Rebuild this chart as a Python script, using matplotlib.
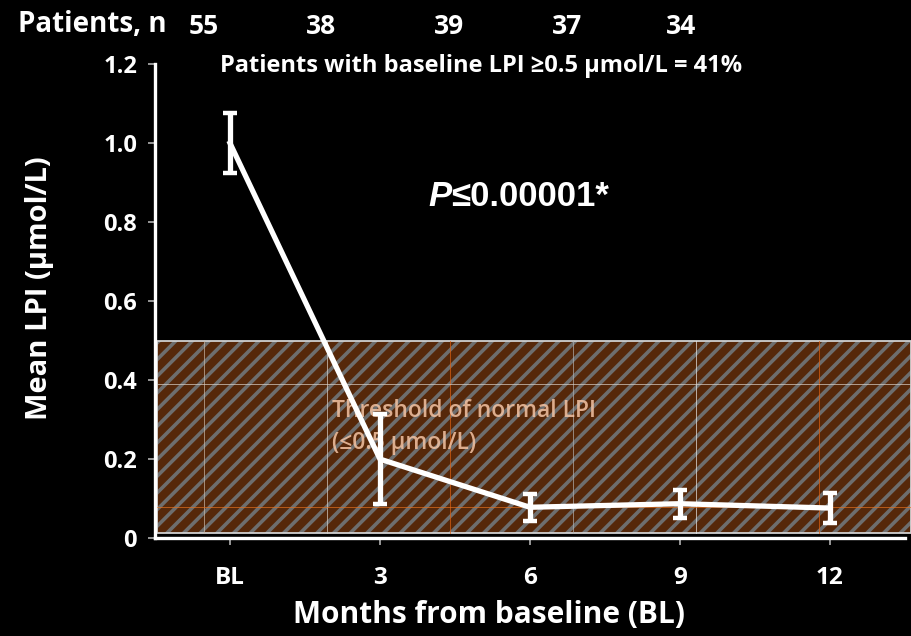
import numpy as np
import matplotlib
matplotlib.use("Agg")
import matplotlib.pyplot as plt
from matplotlib.patches import Rectangle

# ---- data -------------------------------------------------------------
timepoints = ["BL", "3", "6", "9", "12"]
mean_lpi = [1.0, 0.2, 0.078, 0.087, 0.076]
lpi_err = [0.076, 0.115, 0.034, 0.035, 0.037]
patients_n = [55, 38, 39, 37, 34]
y_ticks = [0, 0.2, 0.4, 0.6, 0.8, 1.0, 1.2]
y_tick_labels = ["0", "0.2", "0.4", "0.6", "0.8", "1.0", "1.2"]
normal_threshold = 0.5

# ---- style ------------------------------------------------------------
FONT = "Open Sans"
ARIAL = ["Liberation Sans", "DejaVu Sans"]
plt.rcParams["font.family"] = [FONT, "DejaVu Sans"]
plt.rcParams["hatch.linewidth"] = 2.6

W, H = 912, 636
fig = plt.figure(figsize=(W / 100, H / 100), dpi=100, facecolor="black")
ax = fig.add_axes([0.170, 0.154, 0.822, 0.745])
ax.set_facecolor("black")

x = np.arange(len(timepoints))
ax.set_xlim(-0.5, len(timepoints) - 0.5)
ax.set_ylim(0, 1.2)

# normal-range band (hatched)
band_x0, band_y0 = -0.49, 0.012
band_w = len(timepoints) + 0.03
band_h = normal_threshold - band_y0
ax.add_patch(Rectangle((band_x0, band_y0), band_w, band_h,
                       facecolor="#56280a", edgecolor="#6e6e6e", linewidth=0,
                       hatch="//", zorder=1, clip_on=False))
ax.add_patch(Rectangle((band_x0, band_y0), band_w, band_h,
                       facecolor="none", edgecolor="#d0d0d0", linewidth=1.3,
                       zorder=2, clip_on=False))

# faint grid inside the band
grid_x = -0.173 + 0.82 * np.arange(6)
grid_x_colors = ["#c8b8a8", "#d8d0c8", "#e06010", "#b0b0b0", "#e8e8e8", "#e06010"]
for gx, gc in zip(grid_x, grid_x_colors):
    ax.plot([gx, gx], [band_y0, normal_threshold], color=gc, lw=0.7, alpha=0.7,
            zorder=2, clip_on=False)
for gy, gc in zip([0.079, 0.391], ["#e07020", "#d8d0c8"]):
    ax.plot([band_x0, band_x0 + band_w], [gy, gy], color=gc, lw=0.7,
            alpha=0.7, zorder=2, clip_on=False)

# threshold label (two lines)
for line, ly in zip(["Threshold of normal LPI", "(\u22640.5 \u00b5mol/L)"],
                    [0.322, 0.240]):
    ax.text(0.68, ly, line, color="#f4c4a4", fontsize=16.5,
            fontweight="semibold", alpha=0.85, ha="left", va="center",
            zorder=3)

# mean LPI with error bars
ax.errorbar(x, mean_lpi, yerr=lpi_err, color="white", lw=3.8,
            elinewidth=3.8, capsize=5, capthick=3.2, zorder=5)

# axes styling
for side in ["top", "right"]:
    ax.spines[side].set_visible(False)
for side in ["left", "bottom"]:
    ax.spines[side].set_color("white")
    ax.spines[side].set_linewidth(2.4)
ax.set_xticks(x)
ax.set_xticklabels(timepoints)
ax.set_yticks(y_ticks)
ax.set_yticklabels(y_tick_labels)
ax.tick_params(axis="both", colors="#b0b0b0", length=5, width=1.2)
ax.tick_params(axis="x", labelcolor="white", labelsize=17.5, pad=15)
ax.tick_params(axis="y", labelcolor="white", labelsize=17, pad=8)
for lab in ax.get_xticklabels() + ax.get_yticklabels():
    lab.set_fontweight("bold")

# axis titles
fig.text(489 / W, 1 - 615 / H, "Months from baseline (BL)", color="white",
         fontsize=21.5, fontweight="bold", ha="center", va="center")
fig.text(40 / W, 1 - 288 / H, "Mean LPI (\u00b5mol/L)", color="white",
         fontsize=21, fontweight="bold", ha="center", va="center",
         rotation=90)

# header: patient counts per timepoint
fig.text(18 / W, 1 - 24 / H, "Patients, n", color="white", fontsize=20,
         fontweight="bold", ha="left", va="center")
n_pos_px = [204, 321, 449, 567, 681]
for px, n in zip(n_pos_px, patients_n):
    fig.text(px / W, 1 - 27 / H, str(n), color="white", fontsize=19,
             fontweight="bold", ha="center", va="center")

fig.text(220 / W, 1 - 66 / H,
         "Patients with baseline LPI \u22650.5 \u00b5mol/L = 41%",
         color="white", fontsize=17, fontweight="bold", ha="left", va="center")

# significance: italic P followed by the threshold
p_y = 1 - 197 / H
t_p = fig.text(428 / W, p_y, "P", color="white", fontsize=25,
               fontweight="bold", fontstyle="italic", family=ARIAL,
               ha="left", va="center")
fig.canvas.draw()
bb = t_p.get_window_extent()
fig.text(bb.x1 / W, p_y, "\u22640.00001*", color="white", fontsize=25,
         fontweight="bold", family=ARIAL, ha="left", va="center")

fig.savefig("out.png", dpi=100, facecolor="black")
